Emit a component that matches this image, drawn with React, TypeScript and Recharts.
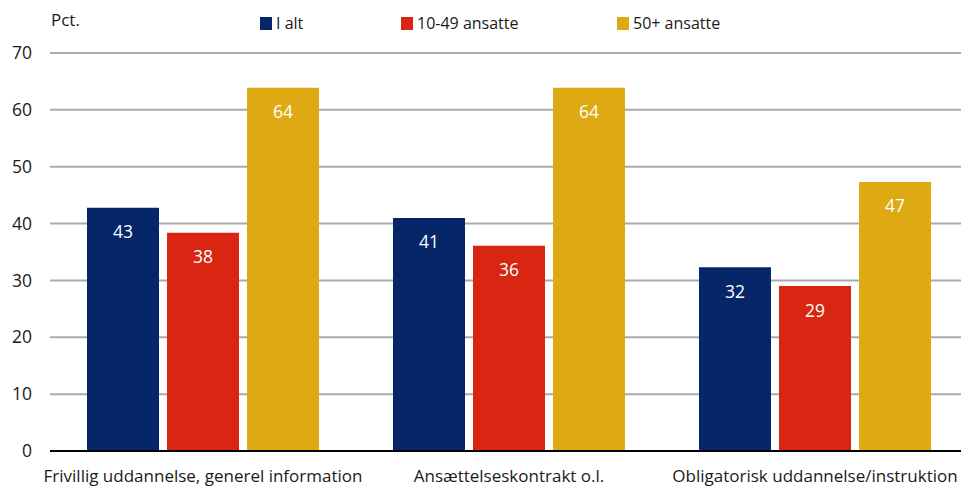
import { BarChart, Bar, XAxis, YAxis, CartesianGrid, LabelList, ReferenceLine } from 'recharts';

const categories = [
    'Frivillig uddannelse, generel information',
    'Ansættelseskontrakt o.l.',
    'Obligatorisk uddannelse/instruktion',
];
const iAlt = [42.8, 41.0, 32.3];
const small = [38.4, 36.1, 29.0];
const large = [63.9, 63.9, 47.3];
const yTicks = [0, 10, 20, 30, 40, 50, 60, 70];

const SERIES = [
    { key: 'iAlt', name: 'I alt', color: '#06266A' },
    { key: 'small', name: '10-49 ansatte', color: '#D92612' },
    { key: 'large', name: '50+ ansatte', color: '#DEA913' },
];

const data = categories.map((name, i) => ({
    name,
    iAlt: iAlt[i],
    small: small[i],
    large: large[i],
}));

const FONT = '"Open Sans", sans-serif';
const TEXT = '#1a1a1a';

const legendPos = [260, 401, 617];

export default function App() {
    return (
        <div style={{ position: 'absolute', left: 0, top: 0, width: 961, height: 488, overflow: 'hidden', fontFamily: FONT, background: '#fff' }}>
            <div style={{ position: 'absolute', left: 51, top: 8, fontSize: 17, color: TEXT }}>Pct.</div>
            {SERIES.map((s, i) => (
                <div key={s.key} style={{ position: 'absolute', left: legendPos[i], top: 12, display: 'flex', alignItems: 'center', fontSize: 16, color: TEXT }}>
                    <span style={{ width: 12, height: 13, background: s.color, display: 'inline-block', marginRight: 4 }} />
                    {s.name}
                </div>
            ))}
            <BarChart
                width={968}
                height={488}
                data={data}
                margin={{ top: 53, right: 0, left: 0, bottom: 7 }}
                barSize={72}
                barGap={8}
            >
                <CartesianGrid vertical={false} stroke="#ababab" strokeWidth={2} />
                <XAxis
                    dataKey="name"
                    height={30}
                    axisLine={false}
                    tickLine={false}
                    tickSize={0}
                    tickMargin={19}
                    interval={0}
                    tick={{ fill: TEXT, fontSize: 17, fontFamily: FONT }}
                />
                <YAxis
                    width={50}
                    domain={[0, 70]}
                    ticks={yTicks}
                    axisLine={false}
                    tickLine={false}
                    tickSize={0}
                    tickMargin={18}
                    tick={{ fill: TEXT, fontSize: 17.5, fontFamily: FONT }}
                />
                {SERIES.map((s) => (
                    <Bar key={s.key} dataKey={s.key} name={s.name} fill={s.color} isAnimationActive={false}>
                        <LabelList
                            dataKey={s.key}
                            position="insideTop"
                            offset={18}
                            formatter={(v: any) => Math.round(Number(v))}
                            style={{ fill: '#ffffff', fontSize: 17.5, fontFamily: FONT }}
                        />
                    </Bar>
                ))}
                <ReferenceLine y={0} stroke="#000" strokeWidth={2} />
            </BarChart>
        </div>
    );
}
